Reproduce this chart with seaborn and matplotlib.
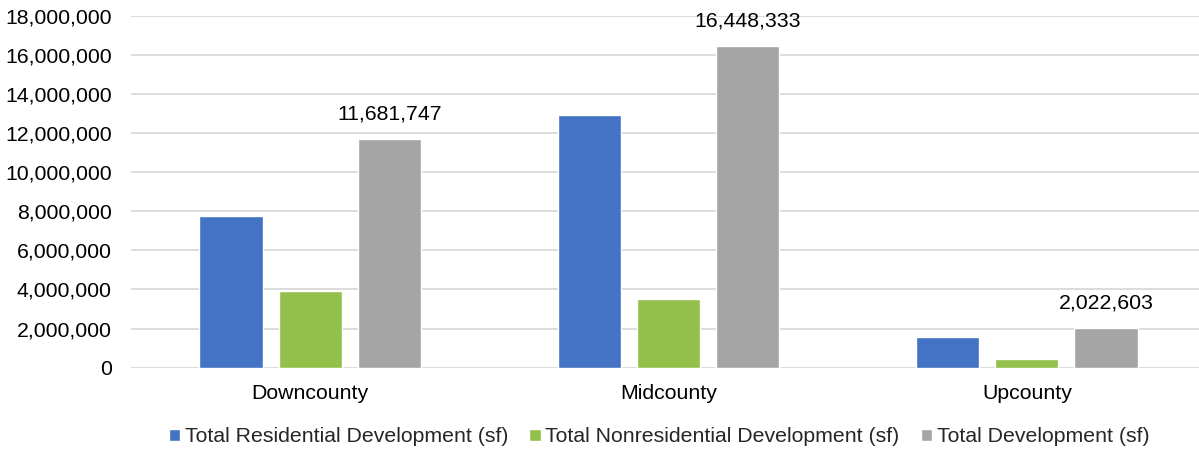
import matplotlib
matplotlib.use("Agg")
import matplotlib.pyplot as plt
import matplotlib.ticker as mticker
import pandas as pd
import seaborn as sns

# Development totals by county area (square feet)
regions = ["Downcounty", "Midcounty", "Upcounty"]
residential = [7760000, 12930000, 1570000]
nonresidential = [3921747, 3518333, 452603]
total = [11681747, 16448333, 2022603]

series_names = [
    "Total Residential Development (sf)",
    "Total Nonresidential Development (sf)",
    "Total Development (sf)",
]
colors = ["#4472C4", "#92C04A", "#A5A5A5"]

df = pd.DataFrame({
    "Region": regions * 3,
    "Series": [series_names[0]] * 3 + [series_names[1]] * 3 + [series_names[2]] * 3,
    "Value": residential + nonresidential + total,
})

sns.set_theme(style="white")
plt.rcParams["font.family"] = ["Liberation Sans", "DejaVu Sans"]

FS = 15.3

fig = plt.figure(figsize=(11.99, 4.51), dpi=100)
ax = fig.add_axes([131 / 1199, (451 - 367.7) / 451, 1075 / 1199, 352 / 451])

sns.barplot(
    data=df, x="Region", y="Value", hue="Series",
    hue_order=series_names, palette=colors,
    width=0.662, gap=0.2, saturation=1, ax=ax, legend=True,
)

ax.set_xlim(-0.5, 2.5)
ax.set_ylim(0, 18000000)
ax.yaxis.set_major_locator(mticker.MultipleLocator(2000000))
ax.yaxis.set_major_formatter(mticker.FuncFormatter(lambda v, p: f"{v:,.0f}"))
ax.grid(axis="y", color="#D9D9D9", linewidth=1.3)
ax.set_axisbelow(True)
for side in ["top", "right", "left", "bottom"]:
    ax.spines[side].set_visible(False)
ax.tick_params(axis="y", length=0, pad=14, labelsize=FS, labelcolor="#000000")
ax.tick_params(axis="x", length=0, pad=12, labelsize=FS, labelcolor="#000000")
ax.set_xlabel("")
ax.set_ylabel("")

# Value labels on the total bars
ax.bar_label(ax.containers[2], labels=[f"{v:,.0f}" for v in total],
             padding=11, fontsize=FS, color="#000000")

handles, labels = ax.get_legend_handles_labels()
ax.get_legend().remove()
fig.legend(
    handles, labels, loc="center", bbox_to_anchor=(659 / 1199, 1 - 437 / 451),
    ncol=3, frameon=False, fontsize=FS,
    handlelength=0.55, handleheight=0.55, handletextpad=0.2, columnspacing=1.0,
)

fig.savefig("out.png", dpi=100)
